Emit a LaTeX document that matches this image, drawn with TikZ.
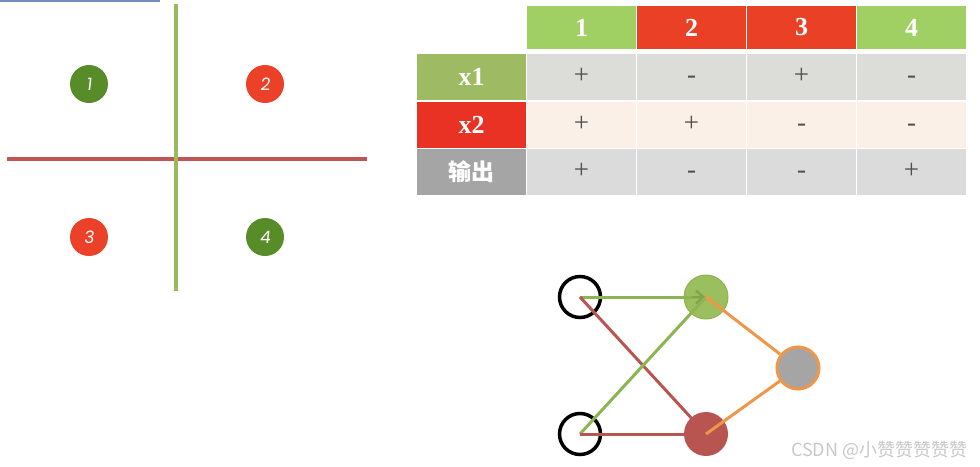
\documentclass[tikz,border=0pt]{standalone}
\usepackage{fontspec}
\setmainfont{Liberation Serif}
\newfontfamily\cjk{Noto Sans CJK SC}
\newfontfamily\gothic[FakeSlant=0.12]{Poppins}
\usetikzlibrary{arrows.meta}
\definecolor{topblue}{RGB}{112,142,190}
\definecolor{qgreen}{RGB}{155,187,89}
\definecolor{qred}{RGB}{190,85,82}
\definecolor{dgreen}{RGB}{88,140,40}
\definecolor{dred}{RGB}{234,65,40}
\definecolor{hgreen}{RGB}{160,208,100}
\definecolor{hred}{RGB}{234,64,38}
\definecolor{lgreen}{RGB}{158,186,98}
\definecolor{lred}{RGB}{233,50,35}
\definecolor{lgray}{RGB}{165,165,165}
\definecolor{rowa}{RGB}{220,221,216}
\definecolor{rowb}{RGB}{250,240,232}
\definecolor{rowc}{RGB}{219,219,219}
\definecolor{signc}{RGB}{80,80,80}
\definecolor{ngreen}{RGB}{155,190,95}
\definecolor{ngreenline}{RGB}{140,180,80}
\definecolor{arrowg}{RGB}{125,165,75}
\definecolor{nred}{RGB}{185,85,80}
\definecolor{norange}{RGB}{240,150,72}
\definecolor{ngray}{RGB}{165,165,165}
\definecolor{wmgray}{RGB}{200,200,200}
\tikzset{
  qdot/.style={circle, minimum size=38pt, inner sep=0pt, text=white, font=\gothic\fontsize{17}{17}\selectfont},
  hcell/.style={minimum width=109pt, minimum height=43pt, inner sep=0pt, text=white, font=\bfseries\fontsize{26}{26}\selectfont},
  lcell/.style={minimum width=109pt, minimum height=46pt, inner sep=0pt, text=white, font=\bfseries\fontsize{26}{26}\selectfont},
  ccell/.style={minimum width=109pt, minimum height=46pt, inner sep=0pt, text=signc, text height=18pt, text depth=5pt, font=\fontsize{27}{27}\selectfont},
  inode/.style={circle, draw=black, line width=3.5pt, minimum size=41pt, inner sep=0pt},
  hnode/.style={circle, minimum size=44pt, inner sep=0pt},
  gline/.style={draw=ngreenline, line width=3pt},
  rline/.style={draw=nred, line width=3pt},
  oline/.style={draw=norange, line width=3pt},
}
\begin{document}
\begin{tikzpicture}[x=1pt,y=-1pt]
\useasboundingbox (0,0) rectangle (980,466);
% top-left thin line
\draw[topblue, line width=1.2pt] (0,1) -- (160,1);
% quadrant axes
\draw[qred, line width=4pt] (7,159) -- (367,159);
\draw[qgreen, line width=4pt] (176,4) -- (176,291);
% quadrant dots
\node[qdot, fill=dgreen] (q1) at (89,84) {1};
\node[qdot, fill=dred] (q2) at (265,84) {2};
\node[qdot, fill=dred] (q3) at (89,237) {3};
\node[qdot, fill=dgreen] (q4) at (265,237) {4};
% table header
\node[hcell, fill=hgreen] (h1c) at (581.5,27.5) {1};
\node[hcell, fill=hred] (h2c) at (691.5,27.5) {2};
\node[hcell, fill=hred] (h3c) at (801.5,27.5) {3};
\node[hcell, fill=hgreen] (h4c) at (911.5,27.5) {4};
% row labels
\node[lcell, fill=lgreen] (rx1) at (471.5,76.5) {x1};
\node[lcell, fill=lred] (rx2) at (471.5,124.5) {x2};
\node[lcell, fill=lgray, font=\cjk\bfseries\fontsize{23}{23}\selectfont] (rout) at (471.5,172) {输出};
% row x1
\node[ccell, fill=rowa] (a1) at (581.5,76.5) {+};
\node[ccell, fill=rowa] (a2) at (691.5,76.5) {-};
\node[ccell, fill=rowa] (a3) at (801.5,76.5) {+};
\node[ccell, fill=rowa] (a4) at (911.5,76.5) {-};
% row x2
\node[ccell, fill=rowb] (b1) at (581.5,124.5) {+};
\node[ccell, fill=rowb] (b2) at (691.5,124.5) {+};
\node[ccell, fill=rowb] (b3) at (801.5,124.5) {-};
\node[ccell, fill=rowb] (b4) at (911.5,124.5) {-};
% row output
\node[ccell, fill=rowc] (c1) at (581.5,172) {+};
\node[ccell, fill=rowc] (c2) at (691.5,172) {-};
\node[ccell, fill=rowc] (c3) at (801.5,172) {-};
\node[ccell, fill=rowc] (c4) at (911.5,172) {+};
% network nodes
\node[inode] (i1) at (580,297) {};
\node[inode] (i2) at (580,434) {};
\node[hnode, fill=ngreen, draw=ngreenline, line width=1pt] (n1) at (706,297) {};
\node[hnode, fill=nred] (n2) at (706,434) {};
\node[circle, minimum size=42pt, inner sep=0pt, fill=ngray, draw=norange, line width=3pt] (o) at (798,368) {};
% network edges
\draw[gline] (i1.center) -- (n1.center);
\draw[arrowg, line width=2.5pt, -{Straight Barb[length=7pt,width=13pt,line width=2.5pt]}, shorten >=1pt] ([xshift=-14pt]n1.center) -- (n1.center);
\draw[rline] (i1.center) -- (n2.center);
\draw[gline] (i2.center) -- (n1.center);
\draw[rline] (i2.center) -- (n2.center);
\draw[oline] (n1.center) -- (o);
\draw[oline] (n2.center) -- (o);
% watermark
\node[anchor=west, inner sep=0pt, text=wmgray, font=\cjk\fontsize{18}{18}\selectfont] (wm) at (791,450) {CSDN @小赞赞赞赞赞};
\end{tikzpicture}
\end{document}
